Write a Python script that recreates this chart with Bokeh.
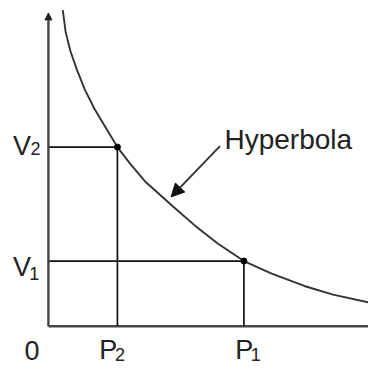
from bokeh.plotting import figure
from bokeh.models import Range1d, Arrow, NormalHead, ColumnDataSource
from bokeh.core.properties import value
from bokeh.embed import file_html
from bokeh.resources import INLINE

# ---- data (units: pixels from the origin) ----
point_names = ["2", "1"]          # subscripts of P and V at the two states
p_values = [72, 204]              # P2, P1
v_values = [187, 68]              # V2, V1
curve_p = [15, 18, 23, 30, 38, 48, 60, 72, 85, 102, 110, 130, 153, 177, 204, 233, 267, 297, 334]
curve_v = [330, 307, 287, 267, 247, 227, 207, 187, 170, 150, 143, 125, 105, 86, 68, 55, 42, 33, 25]
axis_top = 327
axis_right = 334
origin_label = "0"
curve_label = "Hyperbola"
pointer_start = (179, 188)
pointer_end = (128, 135)

FONT = value("Liberation Sans")
TXT = "#222222"

p = figure(width=368, height=365, output_backend="svg", toolbar_location=None,
           x_range=Range1d(-50, 334), y_range=Range1d(-41, 340),
           min_border=0, min_border_left=0, min_border_right=0,
           min_border_top=0, min_border_bottom=0)
p.axis.visible = False
p.grid.visible = False
p.outline_line_color = None
p.background_fill_color = "white"
p.border_fill_color = "white"

# axes
p.segment(x0=[0], y0=[0], x1=[axis_right], y1=[0], line_color="#444444", line_width=2.4)
p.add_layout(Arrow(end=NormalHead(size=7, fill_color="#222222", line_color="#222222"),
                   x_start=0, y_start=0, x_end=0, y_end=axis_top,
                   line_color="#444444", line_width=2.4))

# guide lines
src = ColumnDataSource(dict(p=p_values, v=v_values, zero=[0, 0]))
p.segment(x0="zero", y0="v", x1="p", y1="v", source=src, line_color="#111111", line_width=1.7)
p.segment(x0="p", y0="zero", x1="p", y1="v", source=src, line_color="#111111", line_width=1.7)

# hyperbola
p.line(curve_p, curve_v, line_color="#333333", line_width=1.9)
p.scatter(x="p", y="v", source=src, size=6, color="#000000")

# pointer arrow
p.add_layout(Arrow(end=NormalHead(size=13, fill_color="#111111", line_color="#111111"),
                   x_start=pointer_start[0], y_start=pointer_start[1],
                   x_end=pointer_end[0], y_end=pointer_end[1],
                   line_color="#333333", line_width=1.9))

# labels
main_size = "27px"
sub_size = "18px"
v_main_dy = [1.5, -6]
v_sub_dy = [-2, -13]
v_sub_dx = [-18.6, -20]
p.text(x=[-37, -37], y=[v + d for v, d in zip(v_values, v_main_dy)], text=["V", "V"],
       text_font=FONT, text_font_size=main_size, text_color=TXT,
       text_baseline="alphabetic", text_align="left")
p.text(x=v_sub_dx, y=[v + d for v, d in zip(v_values, v_sub_dy)], text=point_names,
       text_font=FONT, text_font_size=sub_size, text_color=TXT,
       text_baseline="alphabetic", text_align="left")
p_base = -25
p_sub_base = -29.5
p_main_dx = [-19, -9]
p_sub_dx = [-2.6, 7]
p.text(x=[pv + d for pv, d in zip(p_values, p_main_dx)], y=[p_base, p_base], text=["P", "P"],
       text_font=FONT, text_font_size=main_size, text_color=TXT,
       text_baseline="alphabetic", text_align="left")
p.text(x=[pv + d for pv, d in zip(p_values, p_sub_dx)], y=[p_sub_base, p_sub_base], text=point_names,
       text_font=FONT, text_font_size=sub_size, text_color=TXT,
       text_baseline="alphabetic", text_align="left")
p.text(x=[-25], y=[p_base], text=[origin_label],
       text_font=FONT, text_font_size=main_size, text_color=TXT,
       text_baseline="alphabetic", text_align="left")
p.text(x=[183.7], y=[195], text=[curve_label],
       text_font=FONT, text_font_size="28px", text_color=TXT,
       text_baseline="alphabetic", text_align="left")

open("out.html", "w").write(file_html(p, INLINE))
